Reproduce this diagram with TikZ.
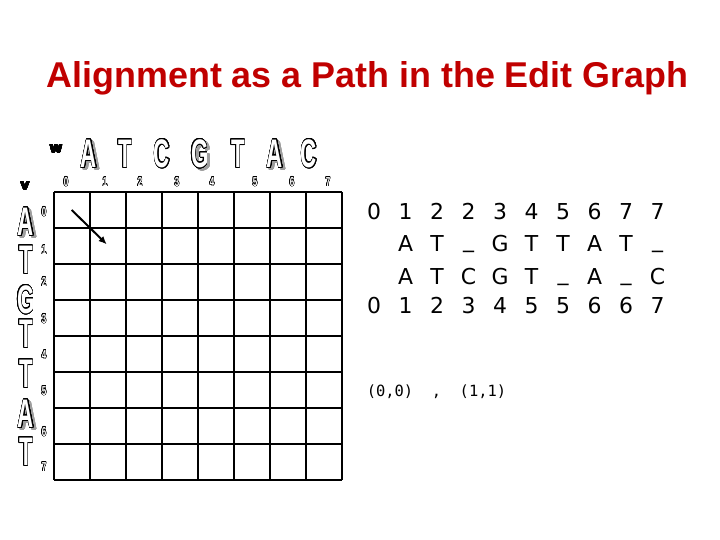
\documentclass[tikz,border=0pt]{standalone}
\usepackage{fontspec}
\setmainfont{Liberation Sans}
\newfontfamily\dvsans{DejaVu Sans}
\newfontfamily\dvmono{DejaVu Sans Mono}
\usepackage{graphicx}
\usepackage{contour}
\contournumber{24}
\usetikzlibrary{arrows.meta}
\definecolor{titlered}{HTML}{C00000}
\definecolor{shadowgray}{gray}{0.62}
\newcommand\bigout[1]{\scalebox{0.56}[1]{\contourlength{1.1pt}\contour{black}{#1}}}
\newcommand\bigshad[1]{\scalebox{0.56}[1]{\contourlength{1.1pt}\contour{shadowgray}{\textcolor{shadowgray}{#1}}}}
\newcommand\smallout[1]{\scalebox{0.62}[1]{\contourlength{0.6pt}\contour{black}{#1}}}
\newcommand\heavy[1]{\contourlength{0.5pt}\contour{black}{#1}}
\newcommand\usc{\raisebox{4bp}{\_}}
\tikzset{
  bigletter/.style={font=\fontsize{40}{40}\selectfont\bfseries, text=white, inner sep=0pt},
  shadletter/.style={font=\fontsize{40}{40}\selectfont\bfseries, text=shadowgray, inner sep=0pt},
  idxlab/.style={font=\fontsize{13}{13}\selectfont\bfseries, text=white, inner sep=0pt},
  seqname/.style={font=\dvsans\fontsize{14}{14}\selectfont\bfseries, inner sep=0pt},
  gridline/.style={line width=1.5bp, black},
  aln/.style={font=\dvsans\fontsize{22}{22}\selectfont, inner sep=0pt, anchor=base},
  pathtext/.style={font=\dvmono\fontsize{15.5}{15.5}\selectfont, inner sep=0pt},
  titletext/.style={font=\fontsize{36}{36}\selectfont\bfseries, text=titlered, inner sep=0pt, anchor=base},
  edgearrow/.style={line width=2bp, -{Latex[length=8bp,width=7bp]}},
}
\begin{document}
\begin{tikzpicture}[x=1bp, y=-1bp]
\path[use as bounding box] (0,0) rectangle (720,540);

% title
\node[titletext] (title) at (367.5,88) {Alignment as a Path in the Edit Graph};

% sequence names
\node[seqname] (wname) at (56,149) {\heavy{w}};
\node[seqname] (vname) at (25,186) {\heavy{v}};

% top sequence w
\foreach \x/\c/\s [count=\i] in {89/A/1,125/T/0,162/C/0,200/G/1,238/T/0,275/A/1,309/C/0}{
  \ifnum\s=1 \node[shadletter] (ws\i) at (\x+2.5,156.5) {\bigshad{\c}};\fi
  \node[bigletter] (w\i) at (\x,154) {\bigout{\c}};
}
% left sequence v
\foreach \y/\c/\s [count=\i] in {222/A/1,260/T/0,300/G/0,334/T/0,374/T/0,414/A/1,452/T/0}{
  \ifnum\s=1 \node[shadletter] (vs\i) at (28.5,\y+2.5) {\bigshad{\c}};\fi
  \node[bigletter] (v\i) at (26,\y) {\bigout{\c}};
}

% column indices
\foreach \x [count=\i from 0] in {66,105,140,177,212,255,292,328}{
  \node[idxlab] (c\i) at (\x,182) {\smallout{\i}};
}
% row indices
\foreach \y [count=\i from 0] in {212,250,282,319,355,391,432,467}{
  \node[idxlab] (r\i) at (44,\y) {\smallout{\i}};
}

% grid
\foreach \k in {0,...,8}{
  \draw[gridline] (54+36*\k,192) -- (54+36*\k,480);
  \draw[gridline] (54,192+36*\k) -- (342,192+36*\k);
}

% edge arrow
\coordinate (as) at (71.7,210);
\coordinate (ae) at (106.7,244.3);
\draw[edgearrow] (as) -- (ae);

% alignment rows
\foreach \c [count=\i from 0] in {0,1,2,2,3,4,5,6,7,7}{
  \node[aln] (ra\i) at (374+31.5*\i,220) {\c};
}
\foreach \c [count=\i from 1] in {A,T,\usc,G,T,T,A,T,\usc}{
  \node[aln] (rb\i) at (374+31.5*\i,252) {\c};
}
\foreach \c [count=\i from 1] in {A,T,C,G,T,\usc,A,\usc,C}{
  \node[aln] (rc\i) at (374+31.5*\i,285) {\c};
}
\foreach \c [count=\i from 0] in {0,1,2,3,4,5,5,6,6,7}{
  \node[aln] (rd\i) at (374+31.5*\i,313) {\c};
}

% path
\node[pathtext] (pth) at (436.5,392) {(0,0)~~,~~(1,1)};
\end{tikzpicture}
\end{document}
